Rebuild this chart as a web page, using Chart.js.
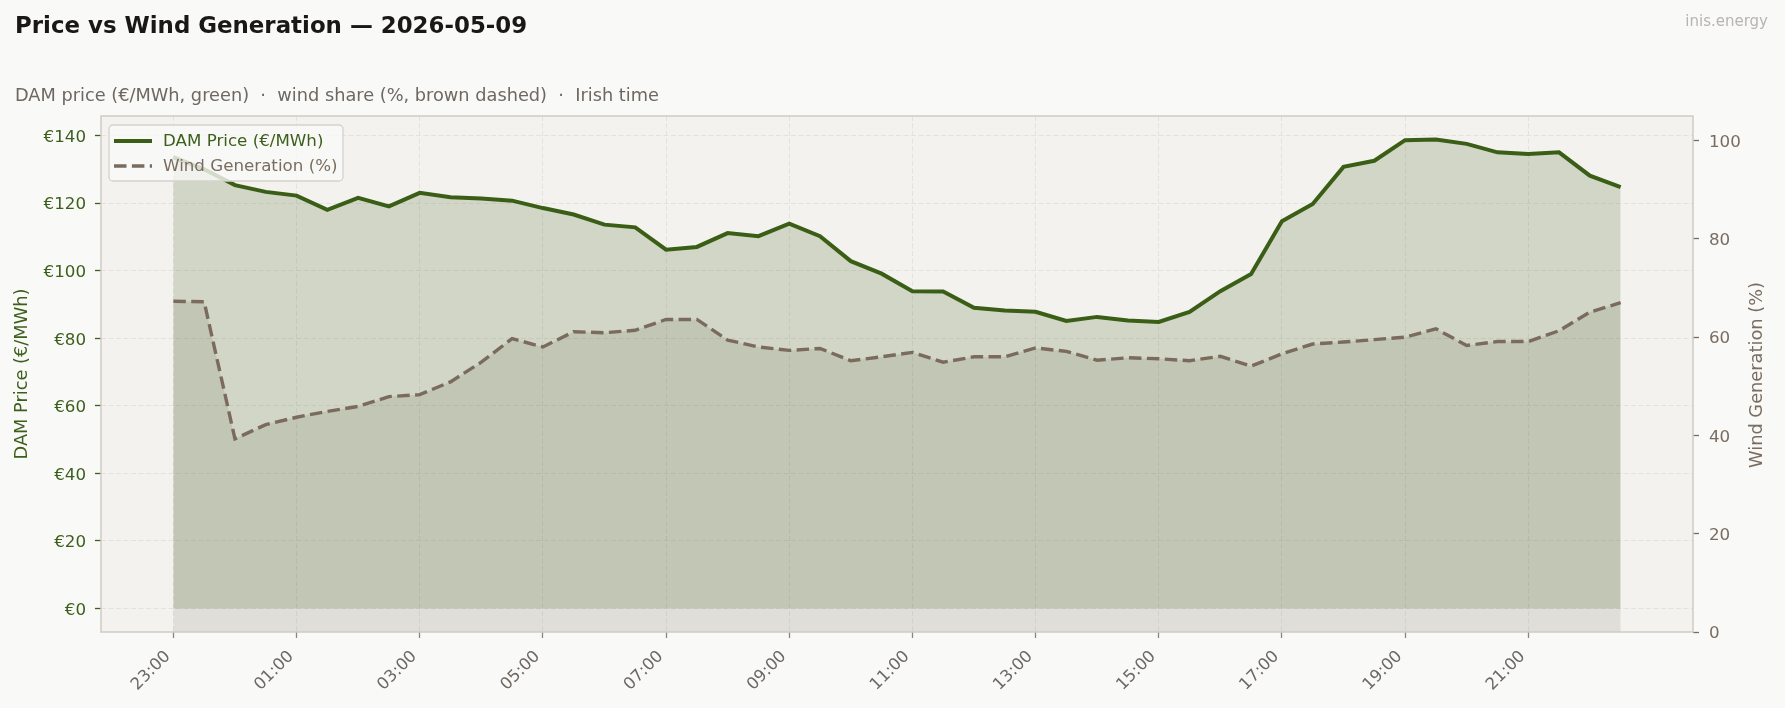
<!DOCTYPE html>
<html>
<head>
<meta charset="utf-8">
<title>Price vs Wind Generation</title>
<script src="https://cdn.jsdelivr.net/npm/chart.js@4.4.1/dist/chart.umd.min.js"></script>
<style>
  html, body { margin: 0; padding: 0; background: #f9f9f7; }
  body { width: 1785px; height: 708px; position: relative; overflow: hidden; font-family: "DejaVu Sans", sans-serif; }
  #title { position: absolute; left: 15px; top: 14px; font-size: 22.9px; line-height: 1; font-weight: bold; color: #1a1816; white-space: pre; }
  #subtitle { position: absolute; left: 15px; top: 87px; font-size: 17.75px; line-height: 1; color: #6e6862; white-space: pre; }
  #brand { position: absolute; right: 17px; top: 14px; font-size: 15px; line-height: 1; color: #b8b4ae; }
  #wrap { position: absolute; left: 0; top: 0; width: 1785px; height: 708px; }
</style>
</head>
<body>
<div id="wrap"><canvas id="grafico" width="1785" height="708"></canvas></div>
<div id="title">Price vs Wind Generation — 2026-05-09</div>
<div id="subtitle">DAM price (€/MWh, green)  ·  wind share (%, brown dashed)  ·  Irish time</div>
<div id="brand">inis.energy</div>
<script>
// half-hourly slots, Irish time
const times = [
  "23:00", "23:30", "00:00", "00:30", "01:00", "01:30", "02:00", "02:30",
  "03:00", "03:30", "04:00", "04:30", "05:00", "05:30", "06:00", "06:30",
  "07:00", "07:30", "08:00", "08:30", "09:00", "09:30", "10:00", "10:30",
  "11:00", "11:30", "12:00", "12:30", "13:00", "13:30", "14:00", "14:30",
  "15:00", "15:30", "16:00", "16:30", "17:00", "17:30", "18:00", "18:30",
  "19:00", "19:30", "20:00", "20:30", "21:00", "21:30", "22:00", "22:30"
];
const tickIdx = [0, 4, 8, 12, 16, 20, 24, 28, 32, 36, 40, 44];
const priceTicks = [0, 20, 40, 60, 80, 100, 120, 140];
const windTicks = [0, 20, 40, 60, 80, 100];

// DAM price (€/MWh)
const price = [
  133.6, 130.0, 125.3, 123.3, 122.2, 118.0, 121.5, 119.0,
  123.0, 121.7, 121.3, 120.7, 118.5, 116.6, 113.6, 112.8,
  106.2, 107.0, 111.1, 110.2, 113.9, 110.2, 102.8, 99.1,
  93.9, 93.8, 89.0, 88.2, 87.8, 85.1, 86.3, 85.2,
  84.8, 87.8, 93.9, 99.0, 114.6, 119.7, 130.7, 132.5,
  138.6, 138.8, 137.5, 135.0, 134.5, 135.0, 128.1, 124.7
];
// wind share (%)
const wind = [
  67.3, 67.2, 39.3, 42.2, 43.7, 44.9, 45.9, 47.9,
  48.3, 50.9, 54.9, 59.7, 58.0, 61.1, 60.9, 61.4,
  63.6, 63.6, 59.4, 58.0, 57.3, 57.7, 55.2, 56.0,
  56.9, 54.9, 56.0, 56.0, 57.8, 57.1, 55.3, 55.8,
  55.6, 55.2, 56.1, 54.1, 56.6, 58.6, 59.0, 59.5,
  60.0, 61.7, 58.3, 59.1, 59.1, 61.3, 65.1, 67.0
];

const VERDE = "#3b5e16";
const MARROM = "#7a6b5d";
const GRID = "#e4e2dd";

Chart.defaults.font.family = "'DejaVu Sans', sans-serif";

// fundo da área do gráfico
const fundo = {
  id: "fundo",
  beforeDraw(chart) {
    const { ctx, chartArea: a } = chart;
    ctx.save();
    ctx.fillStyle = "#f3f2ef";
    ctx.fillRect(a.left, a.top, a.right - a.left, a.bottom - a.top);
    ctx.restore();
  }
};

// moldura, legenda e título do eixo direito
const extras = {
  id: "extras",
  afterDraw(chart) {
    const { ctx, chartArea: a } = chart;
    ctx.save();
    ctx.strokeStyle = "#cfcac3";
    ctx.lineWidth = 1.5;
    ctx.strokeRect(a.left, a.top, a.right - a.left, a.bottom - a.top);

    // legenda
    const lx = a.left + 8, ly = a.top + 9, lw = 234, lh = 56;
    ctx.beginPath();
    ctx.roundRect(lx, ly, lw, lh, 4);
    ctx.fillStyle = "rgba(249,249,247,0.8)";
    ctx.fill();
    ctx.strokeStyle = "#d6d2cb";
    ctx.lineWidth = 1.3;
    ctx.stroke();

    const itens = chart.data.datasets;
    const ys = [ly + 16, ly + 41];
    ctx.font = "16.7px 'DejaVu Sans'";
    ctx.textBaseline = "middle";
    itens.forEach((d, i) => {
      ctx.beginPath();
      ctx.setLineDash(d.borderDash || []);
      ctx.strokeStyle = d.borderColor;
      ctx.lineWidth = d.borderWidth;
      ctx.moveTo(lx + 5, ys[i]);
      ctx.lineTo(lx + 43, ys[i]);
      ctx.stroke();
      ctx.setLineDash([]);
      ctx.fillStyle = i === 0 ? "#3d5f1c" : "#7a6d60";
      ctx.fillText(d.label, lx + 54, ys[i] + 1);
    });

    // título do eixo direito
    ctx.font = "17.8px 'DejaVu Sans'";
    ctx.translate(1757.5, (a.top + a.bottom) / 2 + 1);
    ctx.rotate(-Math.PI / 2);
    ctx.textAlign = "center";
    ctx.fillStyle = "#7a6d60";
    ctx.fillText("Wind Generation (%)", 0, 0);
    ctx.restore();
  }
};

const ctx = document.getElementById("grafico").getContext("2d");

new Chart(ctx, {
  type: "line",
  data: {
    datasets: [
      {
        label: "DAM Price (€/MWh)",
        data: price.map((v, i) => ({ x: i, y: v })),
        yAxisID: "y",
        borderColor: VERDE,
        borderWidth: 4,
        backgroundColor: "rgba(59,94,22,0.185)",
        fill: "origin",
        pointRadius: 0,
        tension: 0,
        order: 0
      },
      {
        label: "Wind Generation (%)",
        data: wind.map((v, i) => ({ x: i, y: v })),
        yAxisID: "y1",
        borderColor: MARROM,
        borderWidth: 3.4,
        borderDash: [12.5, 5.4],
        backgroundColor: "rgba(122,107,93,0.15)",
        fill: "origin",
        pointRadius: 0,
        tension: 0,
        order: 1
      }
    ]
  },
  options: {
    responsive: false,
    animation: false,
    layout: { padding: { top: 116, bottom: 6, left: 0, right: 0 } },
    plugins: {
      legend: { display: false },
      tooltip: { enabled: false },
      filler: { drawTime: "beforeDatasetsDraw" }
    },
    scales: {
      x: {
        type: "linear",
        min: -2.35,
        max: 49.35,
        afterBuildTicks: s => { s.ticks = tickIdx.map(v => ({ value: v })); },
        afterFit: s => { s.height = 70; },
        ticks: {
          callback: v => times[v],
          autoSkip: false,
          maxRotation: 45,
          minRotation: 45,
          color: "#6e6862",
          font: { size: 16.5 },
          padding: 9,
          labelOffset: -5.5
        },
        grid: { color: GRID, lineWidth: 1, tickLength: 6, tickColor: "#8a857f", tickWidth: 1.3 },
        border: { display: false, dash: [5, 2.5] }
      },
      y: {
        position: "left",
        min: -6.95,
        max: 145.75,
        afterBuildTicks: s => { s.ticks = priceTicks.map(v => ({ value: v })); },
        afterFit: s => { s.width = 101; },
        ticks: { callback: v => "€" + v, color: "#3d5f1c", font: { size: 16.7 }, padding: 9, labelOffset: 2 },
        grid: { color: GRID, lineWidth: 1, tickLength: 6, tickColor: "#3d5f1c", tickWidth: 1.3 },
        border: { display: false, dash: [5, 2.5] },
        title: {
          display: true,
          text: "DAM Price (€/MWh)",
          color: "#3d5f1c",
          font: { size: 17.8 },
          padding: { top: 12, bottom: 0 }
        }
      },
      y1: {
        position: "right",
        min: 0,
        max: 105,
        afterBuildTicks: s => { s.ticks = windTicks.map(v => ({ value: v })); },
        afterFit: s => { s.width = 92; },
        ticks: { color: "#7a6d60", font: { size: 16.7 }, padding: 10, labelOffset: 2 },
        grid: { drawOnChartArea: false, tickLength: 6, tickColor: "#7a6d60", tickWidth: 1.3 },
        border: { display: false }
      }
    }
  },
  plugins: [fundo, extras]
});
</script>
</body>
</html>
